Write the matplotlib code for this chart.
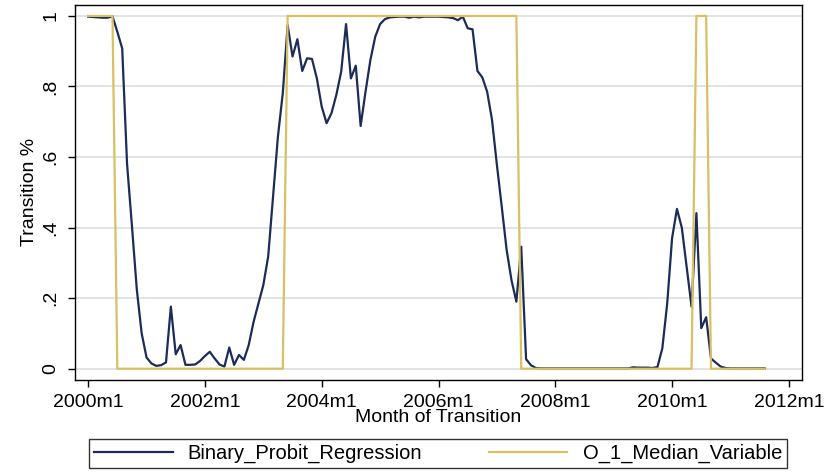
import numpy as np
import matplotlib.pyplot as plt

plt.rcParams['font.family'] = ['Liberation Sans', 'DejaVu Sans']
plt.rcParams['font.size'] = 14

# Monthly series, 2000m1 .. 2011m8 (one row per year)
binary_probit = [
    0.998, 0.997, 0.996, 0.995, 0.995, 0.999, 0.955, 0.908, 0.580, 0.405, 0.225, 0.100,
    0.032, 0.015, 0.008, 0.010, 0.018, 0.176, 0.041, 0.067, 0.011, 0.011, 0.012, 0.022,
    0.036, 0.048, 0.029, 0.012, 0.006, 0.060, 0.011, 0.039, 0.025, 0.067, 0.133, 0.185,
    0.237, 0.318, 0.488, 0.658, 0.781, 0.974, 0.885, 0.934, 0.844, 0.880, 0.878, 0.823,
    0.743, 0.696, 0.724, 0.776, 0.842, 0.977, 0.823, 0.859, 0.688, 0.785, 0.875, 0.941,
    0.977, 0.991, 0.996, 0.997, 0.998, 0.998, 0.995, 0.998, 0.996, 0.998, 0.998, 0.998,
    0.998, 0.997, 0.996, 0.994, 0.988, 0.998, 0.965, 0.962, 0.844, 0.826, 0.785, 0.705,
    0.578, 0.459, 0.337, 0.251, 0.190, 0.346, 0.027, 0.010, 0.002, 0.001, 0.001, 0.001,
    0.001, 0.001, 0.001, 0.001, 0.001, 0.001, 0.001, 0.001, 0.001, 0.001, 0.001, 0.001,
    0.001, 0.001, 0.001, 0.001, 0.004, 0.003, 0.003, 0.003, 0.002, 0.005, 0.058, 0.185,
    0.370, 0.453, 0.400, 0.289, 0.176, 0.441, 0.115, 0.146, 0.029, 0.017, 0.006, 0.002,
    0.001, 0.001, 0.001, 0.001, 0.001, 0.001, 0.001, 0.001,
]

median_variable = [
    1, 1, 1, 1, 1, 1, 0, 0, 0, 0, 0, 0,
    0, 0, 0, 0, 0, 0, 0, 0, 0, 0, 0, 0,
    0, 0, 0, 0, 0, 0, 0, 0, 0, 0, 0, 0,
    0, 0, 0, 0, 0, 1, 1, 1, 1, 1, 1, 1,
    1, 1, 1, 1, 1, 1, 1, 1, 1, 1, 1, 1,
    1, 1, 1, 1, 1, 1, 1, 1, 1, 1, 1, 1,
    1, 1, 1, 1, 1, 1, 1, 1, 1, 1, 1, 1,
    1, 1, 1, 1, 1, 0, 0, 0, 0, 0, 0, 0,
    0, 0, 0, 0, 0, 0, 0, 0, 0, 0, 0, 0,
    0, 0, 0, 0, 0, 0, 0, 0, 0, 0, 0, 0,
    0, 0, 0, 0, 0, 1, 1, 1, 0, 0, 0, 0,
    0, 0, 0, 0, 0, 0, 0, 0,
]

x_tick_labels = ['2000m1', '2002m1', '2004m1', '2006m1', '2008m1', '2010m1', '2012m1']
y_ticks = [0, 0.2, 0.4, 0.6, 0.8, 1.0]
y_tick_labels = ['0', '.2', '.4', '.6', '.8', '1']

months = np.arange(len(binary_probit))

fig = plt.figure(figsize=(8.39, 4.72), dpi=100)
ax = fig.add_axes([75 / 839, 1 - 380 / 472, 727 / 839, 375 / 472])

ax.plot(months, binary_probit, color='#1c2b58', lw=1.6, label='Binary_Probit_Regression')
ax.plot(months, median_variable, color='#d9c062', lw=1.6, label='O_1_Median_Variable')

ax.set_xlim(-2.7, 146.7)
ax.set_ylim(-0.032, 1.031)
ax.set_xticks(np.arange(0, 145, 24))
ax.set_xticklabels(x_tick_labels)
ax.set_yticks(y_ticks)
ax.set_yticklabels(y_tick_labels, rotation=90, va='center')

ax.yaxis.grid(True, color='#dedede', lw=1.2)
ax.set_axisbelow(True)
ax.tick_params(direction='out', length=5, width=1, colors='black')
ax.tick_params(axis='x', pad=5)
ax.tick_params(axis='y', pad=6)
for s in ax.spines.values():
    s.set_color('black')
    s.set_linewidth(1.0)

ax.set_xlabel('Month of Transition', labelpad=-1)
fig.text(30 / 839, 1 - 192 / 472, 'Transition %', rotation=90, ha='center', va='center')

leg = fig.legend(loc='center', ncol=2, mode='expand', fontsize=14.5,
                 bbox_to_anchor=(89 / 839, 1 - 470 / 472, 698 / 839, 33 / 472),
                 frameon=True, fancybox=False, handlelength=3.9, handletextpad=0.75,
                 borderpad=0.25, borderaxespad=0)
leg.get_frame().set_edgecolor('black')
leg.get_frame().set_linewidth(1.0)

fig.savefig('out.png', dpi=100)
